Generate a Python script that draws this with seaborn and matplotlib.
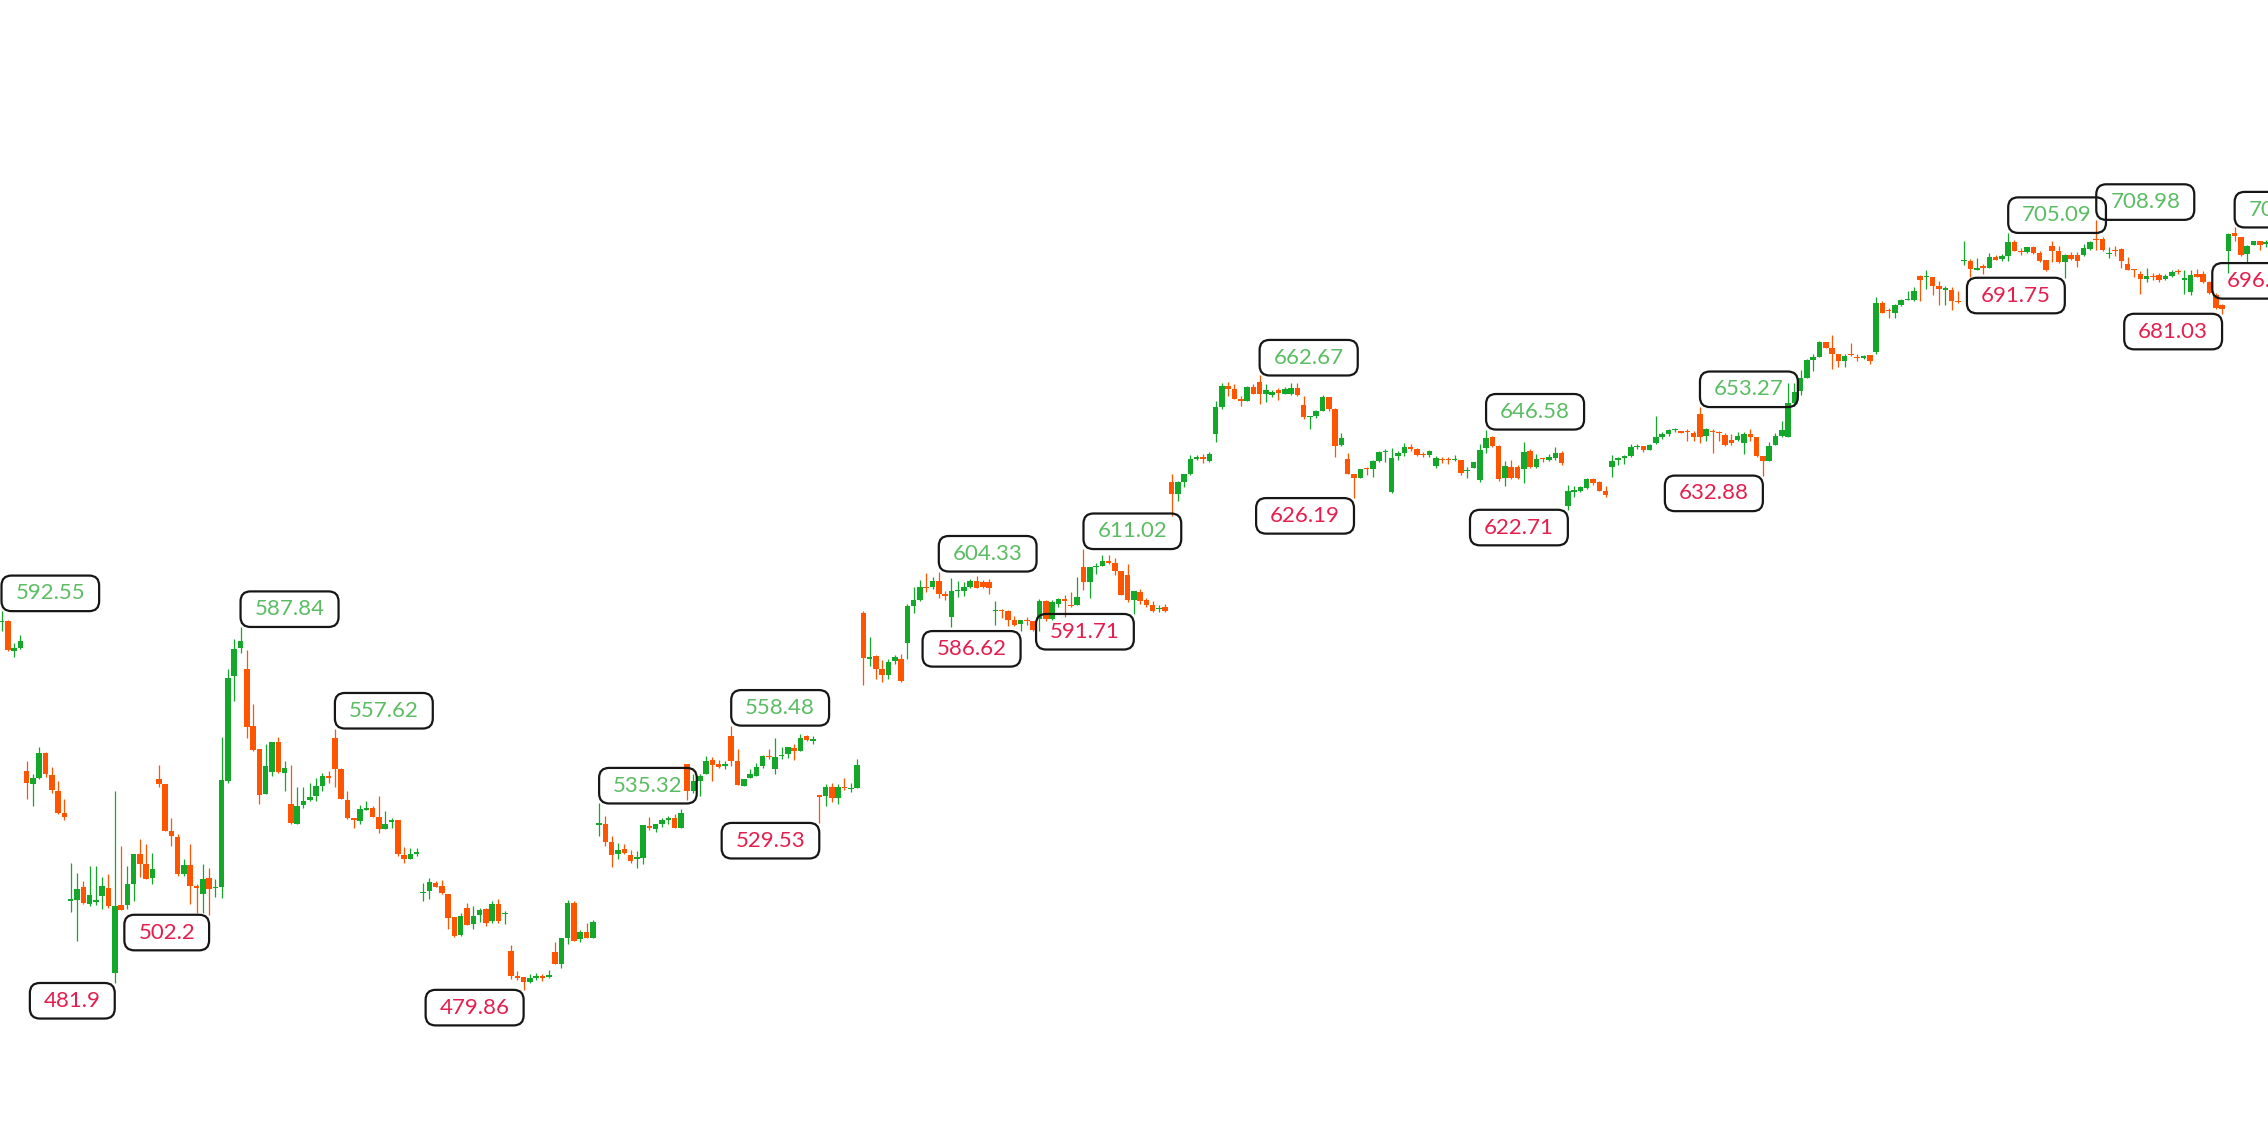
import numpy as np
import pandas as pd
import matplotlib.pyplot as plt
import seaborn as sns
from matplotlib.patches import BoxStyle

# candle data, one entry per bar
opens = [
    589.2, 589.6, 580.7, 581.5, 545.0, 541.2, 542.8, 550.2, 543.8, 539.0,
    532.5, 506.3, 506.5, 510.5, 505.5, 506.0, 507.8, 510.1, 485.0, 505.1,
    505.1, 511.5, 520.2, 517.4, 513.1, 542.5, 541.2, 527.1, 525.4, 514.3,
    517.0, 510.8, 508.3, 513.0, 510.2, 510.5, 542.0, 573.3, 581.5, 575.3,
    558.4, 551.4, 538.1, 544.8, 553.7, 544.5, 535.1, 529.3, 534.9, 536.3,
    537.6, 540.6, 543.5, 554.9, 545.5, 536.3, 530.9, 530.1, 533.3, 533.9,
    531.3, 527.6, 529.9, 530.3, 520.0, 518.7, 520.4, 508.6, 509.3, 511.8,
    510.8, 508.5, 501.4, 496.2, 504.3, 499.4, 502.2, 503.9, 500.2, 505.4,
    502.3, 491.4, 484.0, 483.7, 482.3, 483.5, 484.0, 483.8, 491.2, 487.7,
    495.4, 505.8, 495.0, 497.2, 495.2, 529.0, 529.3, 524.0, 520.2, 521.9,
    520.0, 518.7, 519.0, 528.6, 527.6, 529.1, 530.3, 531.1, 528.1, 547.2,
    539.0, 542.0, 544.0, 548.2, 547.2, 546.5, 555.4, 548.0, 540.5, 543.0,
    543.5, 546.5, 549.5, 545.5, 549.4, 550.0, 551.9, 551.0, 555.4, 554.0,
    537.7, 537.6, 540.3, 536.9, 540.3, 539.7, 540.0, 591.9, 578.3, 579.3,
    575.3, 573.6, 577.6, 578.3, 583.2, 594.2, 595.9, 599.8, 599.6, 601.6,
    597.6, 590.7, 598.4, 598.6, 599.6, 601.6, 601.3, 601.3, 592.5, 592.9,
    592.5, 589.9, 588.7, 589.9, 589.7, 590.2, 595.6, 590.2, 594.7, 596.1,
    594.1, 594.4, 605.8, 601.1, 605.6, 606.0, 607.5, 607.0, 604.4, 603.4,
    595.8, 598.1, 595.8, 594.4, 593.1, 593.7, 630.9, 627.4, 630.9, 633.3,
    637.8, 638.5, 637.1, 645.2, 653.2, 659.6, 658.6, 655.7, 655.0, 659.3,
    660.6, 657.2, 657.0, 658.3, 657.3, 657.2, 658.9, 654.0, 650.4, 650.7,
    652.2, 656.2, 652.7, 642.1, 637.8, 633.5, 632.2, 635.1, 634.8, 637.1,
    639.8, 627.9, 638.8, 639.5, 641.5, 640.8, 639.3, 639.1, 635.8, 637.8,
    637.8, 637.5, 637.5, 634.1, 635.1, 631.6, 641.1, 644.5, 641.8, 632.1,
    635.3, 635.3, 634.8, 640.1, 635.3, 638.1, 637.5, 638.0, 639.5, 623.9,
    627.9, 628.4, 629.2, 631.9, 630.9, 628.2, 635.5, 637.5, 638.1, 638.8,
    641.3, 641.8, 640.5, 642.5, 644.3, 645.4, 646.4, 646.2, 646.2, 645.5,
    651.3, 644.8, 646.2, 645.8, 645.1, 643.5, 643.5, 642.5, 645.3, 644.3,
    638.8, 637.3, 642.1, 644.8, 644.3, 654.4, 658.0, 661.9, 667.3, 668.1,
    672.5, 670.9, 669.1, 666.9, 669.1, 668.3, 667.9, 668.9, 669.6, 684.2,
    682.3, 681.2, 683.7, 685.1, 685.1, 692.4, 691.9, 691.9, 689.4, 688.0,
    688.1, 684.9, 696.6, 696.8, 694.2, 695.0, 694.6, 698.0, 697.3, 698.3,
    702.3, 699.8, 699.3, 701.0, 699.0, 697.0, 701.3, 699.6, 696.3, 698.4,
    698.6, 698.6, 700.3, 703.3, 703.3, 698.9, 700.1, 700.3, 695.8, 694.2,
    693.0, 691.4, 692.2, 692.6, 691.4, 692.4, 693.6, 691.0, 687.4, 693.0,
    693.0, 690.4, 686.7, 683.6, 699.8, 705.0, 703.8, 698.8, 701.6, 702.6,
    701.8,
]
highs = [
    592.55, 589.8, 583.2, 585.5, 548.0, 544.0, 552.1, 550.7, 546.2, 542.0,
    536.6, 517.7, 514.7, 512.3, 516.7, 516.7, 513.3, 514.4, 539.1, 522.7,
    516.7, 520.4, 524.7, 523.2, 520.7, 546.8, 541.2, 531.1, 526.2, 518.7,
    523.2, 511.5, 517.4, 516.2, 512.8, 555.1, 575.3, 584.2, 587.84, 580.9,
    565.0, 551.4, 552.9, 553.7, 555.1, 548.0, 546.8, 540.2, 540.2, 541.5,
    543.0, 544.5, 545.0, 557.62, 545.9, 539.1, 531.1, 534.9, 536.1, 534.6,
    537.6, 533.1, 531.1, 530.3, 522.4, 522.0, 522.2, 511.8, 513.1, 512.3,
    512.5, 508.5, 501.6, 502.8, 505.8, 504.8, 504.3, 504.3, 506.4, 506.9,
    503.3, 493.2, 485.6, 483.7, 484.5, 485.0, 484.7, 485.7, 494.2, 495.2,
    506.5, 506.3, 497.8, 499.9, 500.6, 535.32, 531.6, 525.7, 523.7, 523.4,
    521.4, 521.2, 528.9, 531.3, 529.1, 531.1, 531.6, 532.3, 533.6, 547.2,
    544.0, 544.0, 549.5, 549.0, 548.2, 548.0, 558.48, 551.4, 542.5, 545.5,
    547.5, 549.7, 551.5, 554.7, 552.1, 552.1, 552.9, 556.1, 555.7, 555.4,
    537.7, 541.0, 541.5, 541.0, 542.8, 541.5, 548.5, 592.5, 584.9, 579.6,
    577.9, 578.3, 579.6, 579.8, 594.8, 599.8, 601.8, 603.8, 602.8, 604.33,
    598.6, 602.4, 601.6, 601.1, 602.0, 603.1, 601.8, 602.1, 595.6, 593.2,
    592.9, 591.2, 589.9, 590.7, 589.7, 596.1, 595.8, 595.8, 596.6, 597.4,
    598.1, 602.8, 611.02, 605.8, 607.0, 609.3, 609.3, 608.3, 604.6, 606.6,
    598.4, 599.1, 596.6, 595.6, 594.4, 594.6, 633.3, 631.4, 633.5, 639.1,
    639.1, 639.3, 639.8, 655.0, 660.3, 660.6, 660.1, 656.7, 659.6, 660.1,
    662.67, 660.1, 658.3, 658.9, 659.3, 660.3, 660.3, 656.7, 650.7, 652.4,
    657.0, 656.2, 653.0, 645.7, 639.5, 633.5, 634.8, 635.3, 637.5, 640.3,
    640.8, 641.1, 640.3, 642.5, 642.3, 641.1, 639.8, 640.5, 638.8, 638.5,
    638.5, 639.1, 637.5, 635.3, 636.8, 642.3, 646.58, 644.8, 642.1, 637.3,
    637.5, 636.1, 642.8, 640.8, 639.3, 638.1, 639.3, 641.5, 640.1, 630.2,
    629.9, 629.9, 632.3, 632.3, 631.4, 629.9, 639.1, 638.5, 639.1, 642.3,
    642.3, 641.8, 642.3, 650.7, 645.8, 646.8, 647.1, 646.2, 646.7, 646.2,
    653.27, 647.1, 646.7, 646.2, 645.5, 645.3, 646.0, 646.0, 646.7, 644.3,
    638.8, 642.8, 645.5, 649.2, 660.3, 660.3, 664.3, 667.6, 669.1, 672.8,
    672.5, 674.8, 669.1, 669.1, 672.2, 669.1, 668.9, 668.9, 686.1, 684.7,
    682.9, 683.9, 685.4, 687.7, 688.9, 692.7, 694.1, 692.1, 690.7, 689.4,
    689.1, 687.9, 702.6, 697.3, 697.6, 695.8, 699.0, 698.6, 698.8, 705.09,
    703.0, 700.6, 701.0, 701.3, 699.6, 697.0, 702.8, 701.3, 698.8, 699.3,
    699.3, 701.8, 702.6, 708.98, 703.8, 700.8, 701.3, 700.6, 698.0, 694.3,
    693.8, 694.8, 693.3, 693.3, 692.8, 694.0, 694.3, 694.0, 694.0, 694.3,
    693.8, 690.7, 687.1, 683.9, 705.2, 706.72, 704.0, 701.6, 702.8, 702.8,
    703.0,
]
lows = [
    586.7, 580.7, 579.0, 581.2, 536.6, 534.6, 542.5, 543.2, 538.3, 532.1,
    530.3, 503.0, 494.4, 505.3, 504.8, 505.0, 503.8, 504.3, 481.9, 503.5,
    503.8, 506.3, 513.3, 512.8, 511.3, 540.1, 527.0, 522.7, 513.8, 513.8,
    505.3, 502.8, 502.8, 502.2, 507.5, 507.3, 541.5, 565.8, 580.2, 554.7,
    551.0, 535.3, 538.1, 543.5, 544.5, 539.1, 529.1, 529.1, 534.1, 536.1,
    536.1, 539.1, 541.5, 540.1, 536.6, 530.6, 528.1, 529.1, 533.3, 531.3,
    526.6, 527.6, 528.1, 519.7, 517.7, 518.7, 519.7, 506.2, 506.8, 510.5,
    508.3, 497.9, 495.5, 495.9, 499.2, 497.9, 500.0, 498.9, 499.9, 499.9,
    499.6, 483.0, 482.7, 479.86, 482.0, 482.7, 482.5, 483.5, 487.6, 486.3,
    493.5, 494.4, 494.0, 495.2, 495.2, 525.7, 522.7, 516.4, 518.7, 520.2,
    517.7, 516.2, 517.4, 527.4, 526.9, 528.3, 529.1, 527.9, 528.1, 536.3,
    538.3, 537.6, 544.0, 542.0, 545.8, 545.5, 546.5, 540.7, 540.5, 543.0,
    543.5, 546.0, 548.5, 544.2, 548.5, 548.8, 548.2, 550.8, 553.9, 553.0,
    529.53, 534.6, 535.9, 535.1, 539.3, 538.6, 540.0, 570.6, 576.3, 572.3,
    571.6, 572.3, 576.8, 571.6, 578.3, 591.9, 595.6, 598.1, 599.1, 596.6,
    595.8, 587.9, 596.8, 597.1, 599.4, 599.4, 599.4, 597.6, 588.5, 590.5,
    588.2, 588.2, 586.62, 588.5, 586.7, 586.7, 589.7, 589.9, 593.7, 590.7,
    593.7, 594.4, 598.8, 596.4, 603.6, 606.0, 606.5, 603.4, 597.4, 595.4,
    591.71, 594.6, 593.7, 592.2, 592.2, 592.2, 620.9, 625.4, 629.4, 633.1,
    637.5, 636.5, 636.8, 642.8, 652.7, 656.7, 655.7, 653.7, 655.0, 657.2,
    654.2, 654.7, 656.2, 655.4, 657.2, 657.0, 656.7, 649.7, 646.7, 650.0,
    652.0, 652.2, 638.3, 641.8, 633.5, 626.19, 632.2, 633.1, 632.5, 636.8,
    636.8, 627.6, 637.5, 638.8, 640.3, 638.8, 638.5, 638.3, 635.1, 636.5,
    636.3, 637.3, 633.1, 632.3, 635.1, 630.9, 639.5, 641.5, 631.4, 629.9,
    631.9, 631.9, 630.6, 635.1, 635.1, 636.8, 637.1, 637.5, 636.1, 622.71,
    626.4, 627.9, 628.9, 630.2, 628.2, 626.4, 632.5, 636.1, 636.3, 638.5,
    640.8, 639.8, 640.5, 642.3, 643.8, 644.6, 645.9, 645.5, 643.3, 643.3,
    642.5, 643.3, 639.5, 643.3, 641.8, 642.1, 643.3, 639.3, 643.3, 638.5,
    632.88, 637.3, 642.1, 644.3, 644.3, 653.7, 657.0, 661.9, 664.1, 668.1,
    670.9, 664.6, 665.1, 665.1, 668.6, 667.1, 667.6, 666.1, 669.1, 681.2,
    679.8, 679.8, 683.4, 685.1, 684.9, 684.7, 688.4, 686.7, 683.7, 683.5,
    682.2, 684.1, 695.6, 692.0, 694.0, 692.9, 694.6, 697.0, 696.8, 696.6,
    699.6, 698.6, 699.0, 698.8, 696.3, 693.8, 696.3, 696.0, 691.75, 697.0,
    695.0, 698.3, 700.0, 700.0, 699.6, 697.6, 698.3, 694.6, 694.0, 691.9,
    686.9, 690.4, 691.1, 690.6, 691.1, 692.1, 692.9, 686.9, 686.7, 691.9,
    690.1, 687.0, 682.5, 681.03, 693.3, 702.6, 698.3, 696.3, 701.6, 700.0,
    701.0,
]
closes = [
    589.6, 580.9, 581.5, 583.7, 541.5, 542.8, 550.2, 544.2, 539.2, 532.6,
    531.3, 506.8, 509.8, 505.8, 508.1, 506.6, 510.8, 504.8, 504.8, 503.5,
    511.5, 520.2, 517.2, 512.8, 515.7, 541.0, 527.1, 525.7, 514.4, 517.0,
    510.8, 510.3, 512.8, 509.8, 510.5, 542.2, 572.8, 581.2, 583.7, 558.1,
    551.2, 537.8, 546.5, 553.7, 544.8, 545.8, 529.6, 534.6, 536.1, 537.3,
    540.6, 543.5, 543.0, 545.5, 536.6, 531.1, 530.3, 533.6, 533.9, 531.3,
    527.6, 529.3, 530.3, 520.2, 518.7, 520.4, 520.7, 509.0, 512.0, 510.5,
    508.8, 501.2, 495.9, 501.9, 499.2, 501.9, 503.6, 499.9, 505.4, 500.4,
    502.5, 484.0, 483.5, 482.3, 483.3, 484.0, 483.5, 484.3, 487.7, 495.2,
    505.8, 494.5, 497.0, 495.2, 499.9, 529.6, 524.0, 520.0, 521.4, 520.7,
    518.2, 519.4, 528.9, 528.1, 529.1, 530.3, 531.1, 528.1, 532.6, 539.0,
    542.0, 543.5, 548.0, 546.8, 546.2, 547.0, 548.0, 540.9, 542.5, 544.0,
    546.2, 549.5, 549.0, 549.2, 549.8, 552.1, 550.8, 554.9, 554.1, 554.4,
    537.3, 540.3, 536.9, 540.3, 539.9, 540.0, 546.8, 578.6, 579.0, 575.3,
    573.6, 577.3, 578.8, 571.8, 594.2, 595.9, 599.8, 599.4, 601.6, 597.6,
    597.1, 598.6, 598.8, 599.8, 601.6, 599.4, 599.8, 599.4, 592.9, 592.5,
    589.9, 588.5, 589.9, 589.5, 586.9, 595.6, 590.2, 595.4, 596.1, 595.6,
    594.0, 596.8, 601.1, 605.6, 606.0, 607.5, 607.0, 604.4, 597.4, 595.8,
    598.4, 595.6, 594.4, 592.5, 593.5, 592.7, 627.4, 630.9, 633.3, 637.8,
    638.3, 637.8, 639.3, 653.2, 659.6, 658.6, 655.7, 655.0, 659.3, 657.2,
    657.2, 658.3, 657.9, 657.6, 658.5, 658.9, 657.0, 650.4, 650.7, 652.2,
    656.2, 652.7, 641.8, 644.1, 633.5, 632.3, 634.8, 634.7, 637.1, 639.8,
    640.3, 638.1, 639.5, 641.5, 640.8, 639.1, 638.9, 640.1, 638.1, 637.6,
    637.6, 637.8, 633.8, 634.5, 636.8, 640.5, 644.1, 641.8, 631.9, 635.8,
    632.3, 632.3, 639.8, 635.3, 637.8, 637.8, 638.3, 639.5, 636.5, 628.2,
    628.6, 629.4, 631.9, 630.6, 628.2, 627.2, 637.3, 638.1, 638.8, 641.3,
    641.8, 640.5, 642.1, 644.5, 645.3, 646.5, 646.7, 645.6, 645.9, 644.3,
    644.3, 646.7, 645.8, 645.6, 642.1, 642.5, 644.8, 645.3, 644.3, 638.8,
    637.3, 641.8, 644.8, 646.5, 654.4, 657.7, 661.9, 667.3, 668.3, 672.5,
    670.9, 669.1, 667.1, 668.6, 668.8, 667.9, 668.6, 666.9, 684.2, 681.2,
    681.9, 683.7, 685.1, 685.4, 687.7, 691.1, 692.4, 689.4, 688.4, 688.6,
    684.9, 684.5, 696.9, 694.3, 694.6, 694.8, 698.0, 697.0, 698.3, 702.3,
    699.6, 699.4, 701.0, 699.0, 696.6, 694.0, 699.6, 696.3, 698.6, 697.3,
    696.8, 700.6, 702.3, 702.9, 700.0, 699.2, 699.8, 696.6, 694.0, 694.0,
    691.4, 692.4, 692.0, 691.1, 692.4, 693.6, 693.4, 691.8, 692.6, 692.0,
    690.4, 687.1, 682.7, 682.4, 704.8, 704.3, 698.6, 701.3, 702.6, 701.6,
    702.4,
]

# local highs / lows that carry a value label (bar index, price)
peak_idx = [0, 38, 53, 95, 116, 149, 172, 200, 236, 270, 319, 333, 355]
peak_val = [592.55, 587.84, 557.62, 535.32, 558.48, 604.33, 611.02, 662.67,
            646.58, 653.27, 705.09, 708.98, 706.72]
dip_idx = [18, 33, 83, 130, 162, 180, 215, 249, 280, 328, 353, 367]
dip_val = [481.9, 502.2, 479.86, 529.53, 586.62, 591.71, 626.19, 622.71,
           632.88, 691.75, 681.03, 696.12]

sns.set_theme(style="white")
plt.rcParams['font.family'] = ['Lato', 'DejaVu Sans']

df = pd.DataFrame({'open': opens, 'high': highs, 'low': lows, 'close': closes})
df['color'] = np.where(df['close'] >= df['open'], '#14a82b', '#ff5400')

fig = plt.figure(figsize=(22.68, 11.48), dpi=100)
ax = fig.add_axes([0, 0, 1, 1])

# wicks then bodies
ax.vlines(df.index, df['low'], df['high'], colors=df['color'], linewidth=0.9, zorder=1)
body = (df['close'] - df['open']).abs().clip(lower=0.35)
ax.bar(df.index, body, bottom=df[['open', 'close']].min(axis=1), width=0.88,
       color=df['color'], linewidth=0, zorder=2)

# rounded label boxes, a bit wider than tall
base_box = BoxStyle('Round', pad=0.35, rounding_size=0.45)


def label_box(x0, y0, width, height, mutation_size):
    ex = 0.28 * mutation_size
    return base_box(x0 - ex, y0, width + 2 * ex, height, mutation_size)


fs = 16
fpx = fs * 100 / 72
dx = (0.35 + 0.28) * fpx
dy = 0.35 * fpx
box = dict(boxstyle=label_box, facecolor='none', edgecolor='#161616', linewidth=1.6)

for i, v in zip(peak_idx, peak_val):
    ax.annotate(f'{v:g}', xy=(i, v), xytext=(dx, dy), textcoords='offset pixels',
                ha='left', va='bottom', fontsize=fs, color='#5bbd63',
                bbox=box, annotation_clip=False, zorder=3)

for i, v in zip(dip_idx, dip_val):
    ax.annotate(f'{v:g}', xy=(i, v), xytext=(-dx, -dy), textcoords='offset pixels',
                ha='right', va='top', fontsize=fs, color='#e61e4d',
                bbox=box, annotation_clip=False, zorder=3)

ax.set_xlim(-0.24, 360.3)
ax.set_ylim(432.8, 774.4)
ax.axis('off')

fig.savefig('out.png', dpi=100)
